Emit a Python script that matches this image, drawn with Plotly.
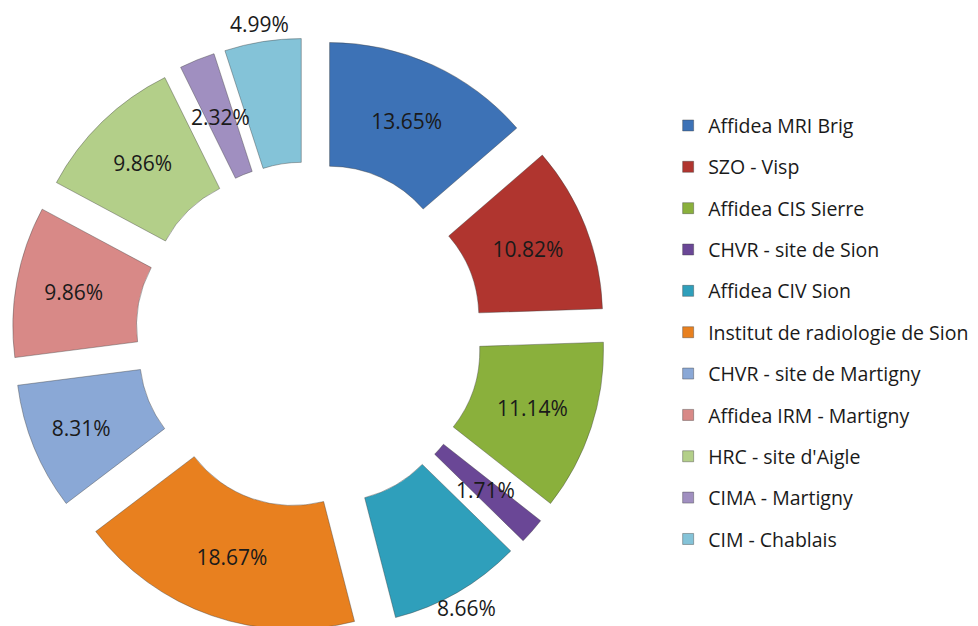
import math
import plotly.graph_objects as go

labels = ["Affidea MRI Brig", "SZO - Visp", "Affidea CIS Sierre", "CHVR - site de Sion",
          "Affidea CIV Sion", "Institut de radiologie de Sion", "CHVR - site de Martigny",
          "Affidea IRM - Martigny", "HRC - site d'Aigle", "CIMA - Martigny", "CIM - Chablais"]
values = [13.65, 10.82, 11.14, 1.71, 8.66, 18.67, 8.31, 9.86, 9.86, 2.32, 4.99]
colors = ["#3d72b6", "#b0352f", "#8ab03c", "#6a4796", "#2f9fbb", "#e8801f",
          "#8aa8d6", "#d88987", "#b3cf89", "#a08fc0", "#84c3d8"]
# where each value label sits: in the slice (pie text), mid-ring overlay, or outside
label_mode = ["in", "in", "in", "mid", "out", "in", "in", "in", "in", "mid", "out"]

FONT = "Open Sans"
FS = 21
LFS = 19.5
W, H = 978, 626
CX, CY, R = 301, 327, 297          # pie centre / outer reach in pixels
PULL = 0.2
HOLE = 0.5
DOM_X = [(CX - R) / W, (CX + R) / W]
DOM_Y = [1 - (CY + R) / H, 1 - (CY - R) / H]

fig = go.Figure()
fig.add_trace(go.Pie(
    labels=labels, values=values, sort=False, direction="clockwise", rotation=0,
    hole=HOLE, pull=[PULL] * len(values),
    marker=dict(colors=colors, line=dict(color="rgba(60,60,60,0.4)", width=1)),
    texttemplate=["%{value:.2f}%" if m == "in" else "" for m in label_mode],
    textposition="inside",
    insidetextorientation="horizontal",
    textfont=dict(family=FONT, size=FS, color="#1a1a1a"),
    showlegend=False,
    domain=dict(x=DOM_X, y=DOM_Y),
))

r = R / (1 + PULL)
ring_mid = (r * HOLE + r * PULL + R) / 2
total = sum(values)
cum = 0.0
for v, m in zip(values, label_mode):
    mid = (cum + v / 2) / total * 2 * math.pi
    cum += v
    if m == "in":
        continue
    rr = ring_mid if m == "mid" else R + 18
    px = CX + rr * math.sin(mid)
    py = CY - rr * math.cos(mid)
    fig.add_annotation(x=px / W, y=1 - py / H, xref="paper", yref="paper",
                       xanchor="center", yanchor="middle",
                       text=f"{v:.2f}%", showarrow=False,
                       font=dict(family=FONT, size=FS, color="#1a1a1a"))

for i, (lab, col) in enumerate(zip(labels, colors)):
    fig.add_trace(go.Scatter(
        x=[None], y=[None], mode="markers", name=lab,
        marker=dict(symbol="square", size=11, color=col,
                    line=dict(color="rgba(60,60,60,0.4)", width=1)),
        legendgroup=f"g{i}", showlegend=True,
    ))

fig.update_layout(
    width=W, height=H,
    margin=dict(l=0, r=0, t=0, b=0),
    paper_bgcolor="white", plot_bgcolor="white",
    xaxis=dict(visible=False), yaxis=dict(visible=False),
    uniformtext=dict(minsize=FS, mode="show"),
    legend=dict(x=0.675, y=0.843, xanchor="left", yanchor="top",
                font=dict(family=FONT, size=LFS, color="#1a1a1a"),
                tracegroupgap=13, itemwidth=30, bgcolor="rgba(0,0,0,0)"),
)

fig.write_html("out.html")
